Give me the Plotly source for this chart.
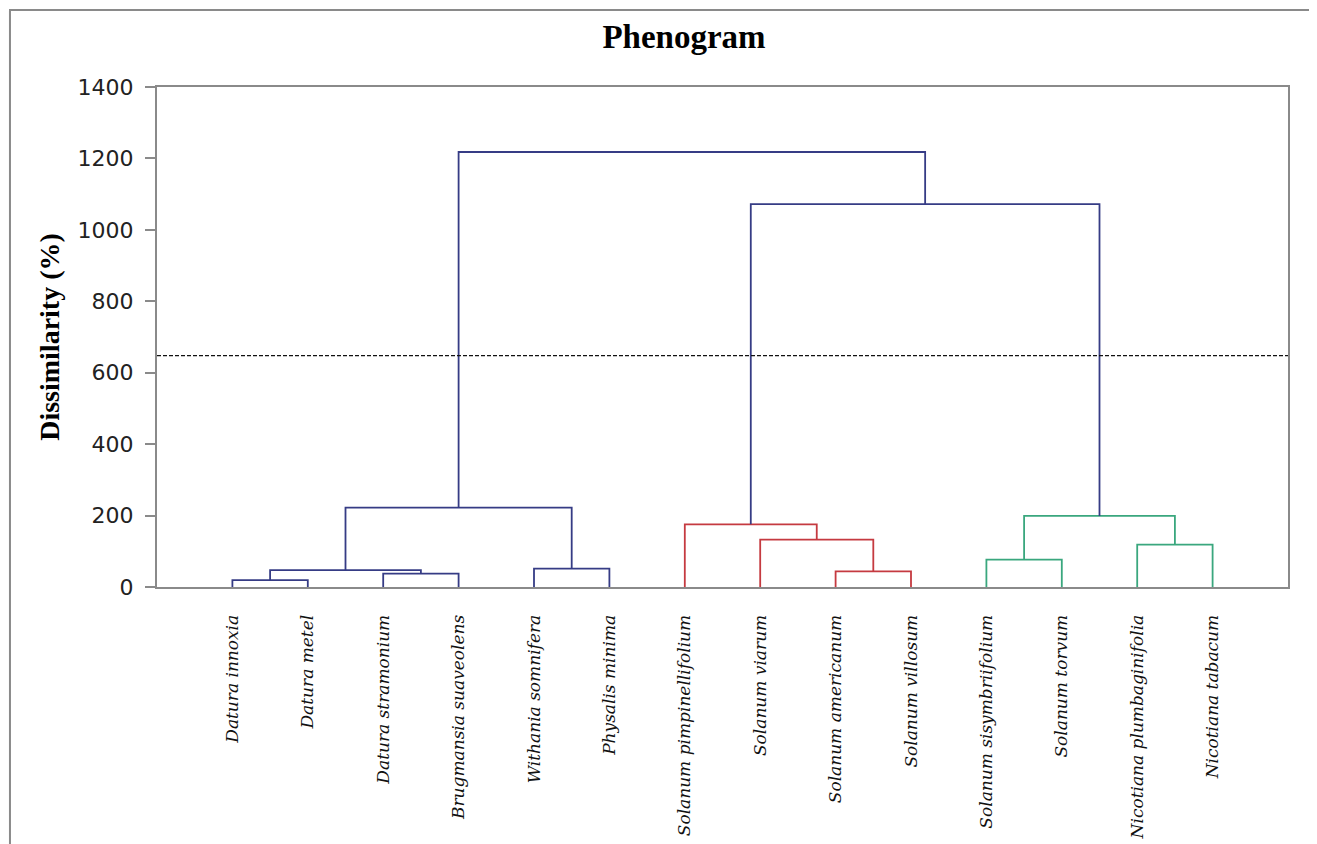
import plotly.graph_objects as go

# ---- data ----
species = [
    "Datura innoxia", "Datura metel", "Datura stramonium", "Brugmansia suaveolens",
    "Withania somnifera", "Physalis minima", "Solanum pimpinellifolium", "Solanum viarum",
    "Solanum americanum", "Solanum villosum", "Solanum sisymbriifolium", "Solanum torvum",
    "Nicotiana plumbaginifolia", "Nicotiana tabacum",
]
leaf_pos = list(range(1, 15))

# linkage: new cluster ids start at 14
merge_left = [0, 2, 14, 4, 16, 8, 7, 6, 10, 12, 22, 21, 18]
merge_right = [1, 3, 15, 5, 17, 9, 19, 20, 11, 13, 23, 24, 25]
merge_height = [19, 37.5, 47, 51.5, 222, 44, 132.5, 175.5, 76.5, 118.5, 199, 1072, 1218]
merge_group = ["A", "A", "A", "A", "A", "B", "B", "B", "C", "C", "C", "A", "A"]

cut_level = 648
y_ticks = [0, 200, 400, 600, 800, 1000, 1200, 1400]

group_color = {"A": "#363c85", "B": "#c53a40", "C": "#3aa77e"}

# ---- build dendrogram ----
n = len(species)
pos = {i: leaf_pos[i] for i in range(n)}
hgt = {i: 0.0 for i in range(n)}

fig = go.Figure()
for k, (a, b, h, g) in enumerate(zip(merge_left, merge_right, merge_height, merge_group)):
    xa, xb = pos[a], pos[b]
    fig.add_trace(go.Scatter(
        x=[xa, xa, xb, xb], y=[hgt[a], h, h, hgt[b]],
        mode="lines", line=dict(color=group_color[g], width=1.8),
        hoverinfo="skip", showlegend=False,
    ))
    cid = n + k
    pos[cid] = (xa + xb) / 2
    hgt[cid] = h

fig.add_shape(type="line", xref="paper", yref="y", x0=0, x1=1, y0=cut_level, y1=cut_level,
              line=dict(color="#111111", width=1.2, dash="4px,2px"))

# outer frame (top and left edges visible)
fig.add_shape(type="path", xref="paper", yref="paper",
              path="M -0.130,-0.7 L -0.130,1.154 L 1.2,1.154",
              line=dict(color="#8a8a8a", width=2))

W, H = 1309, 836
fig.update_layout(
    width=W, height=H,
    margin=dict(l=149, r=29, t=79, b=257, autoexpand=False),
    paper_bgcolor="white", plot_bgcolor="white",
    title=dict(text="<b>Phenogram</b>", x=676 / W, xanchor="center",
               y=1 - 28 / H, yanchor="middle", yref="container",
               font=dict(family="Liberation Serif", size=33, color="#000000")),
    xaxis=dict(range=[0, 15], tickmode="array", tickvals=leaf_pos, ticktext=species,
               tickangle=-90, ticks="", showgrid=False, zeroline=False, automargin=False,
               showline=True, linecolor="#8a8a8a", linewidth=2, mirror=True,
               ticklabelstandoff=19,
               tickfont=dict(family="DejaVu Serif", size=17, color="#111111", style="italic")),
    yaxis=dict(range=[0, 1400], tickmode="array", tickvals=y_ticks, automargin=False,
               ticks="outside", ticklen=10, tickcolor="#8a8a8a", tickwidth=1.5,
               showgrid=False, zeroline=False,
               showline=True, linecolor="#8a8a8a", linewidth=2, mirror=True,
               ticklabelstandoff=7,
               tickfont=dict(family="DejaVu Sans", size=22, color="#222222"),
               title=dict(text="<b>Dissimilarity (%)</b>", standoff=10,
                          font=dict(family="Liberation Serif", size=28, color="#000000"))),
)

fig.write_html("out.html")
